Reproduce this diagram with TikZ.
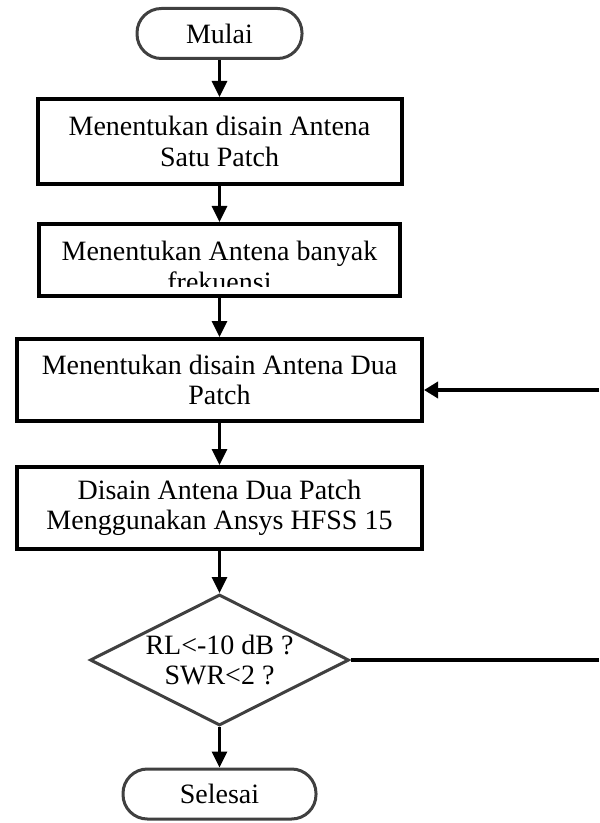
\documentclass[tikz,border=0pt]{standalone}
\usepackage{fontspec}
\setmainfont{Liberation Serif}
\usepackage{xcolor}
\definecolor{EdgeGray}{RGB}{64, 64, 64}
\usepackage{tikz}
\usetikzlibrary{shapes, arrows.meta, positioning, calc}

\begin{document}
\begin{tikzpicture}[
        x=0.5pt, y=-0.5pt,
        font=\fontsize{14pt}{15.3pt}\selectfont,
        term/.style={rectangle, rounded corners=12.2pt, draw=EdgeGray, line width=1.5pt, fill=white, inner sep=0pt, minimum height=25pt},
        proc/.style={rectangle, draw=black, line width=2pt, fill=white, align=center, inner sep=0pt, minimum width=202.5pt, minimum height=41pt},
        decide/.style={diamond, aspect=2, draw=EdgeGray, line width=1.5pt, align=center, inner sep=0pt, minimum width=129.5pt, minimum height=65.5pt},
        arr/.style={-{Triangle[length=8pt, width=7.5pt]}, line width=1.5pt},
        back/.style={line width=2pt}
    ]
        \useasboundingbox (0,0) rectangle (599,823);

        \node[term, minimum width=82.5pt] (start) at (219.5,33.5) {Mulai};
        \node[proc, minimum width=182pt, minimum height=42.5pt] (b1) at (219.5,141.5) {Menentukan disain Antena\\Satu Patch};
        \node[proc, minimum width=180.5pt, minimum height=36pt] (b2) at (219.5,260) {};
        \begin{scope}
            \clip (b2.north west) rectangle ([yshift=5.5pt]b2.south east);
            \node[align=center, inner sep=0pt, anchor=north] (b2txt) at (219.5,241) {Menentukan Antena banyak\\frekuensi};
        \end{scope}
        \node[proc] (b3) at (219.5,380) {Menentukan disain Antena Dua\\Patch};
        \node[proc] (b4) at (219.5,508) {Disain Antena Dua Patch\\Menggunakan Ansys HFSS 15};
        \node[decide] (check) at (219.5,660) {RL<-10 dB ?\\SWR<2 ?};
        \node[term, minimum width=96.5pt] (stop) at (219.5,794) {Selesai};

        \coordinate (fbout) at (599,662);
        \coordinate (fbin) at (599,390);

        \draw[arr] (start) -- (b1);
        \draw[arr] (b1) -- (b2);
        \draw[arr] (b2) -- (b3);
        \draw[arr] (b3) -- (b4);
        \draw[arr] (b4) -- (check);
        \draw[arr] (check) -- (stop);

        \draw[back] (check.east) -- (check.east -| fbout);
        \draw[back, -{Triangle[length=7pt, width=8pt]}] (fbin) -- (fbin -| b3.east);
    \end{tikzpicture}
\end{document}
